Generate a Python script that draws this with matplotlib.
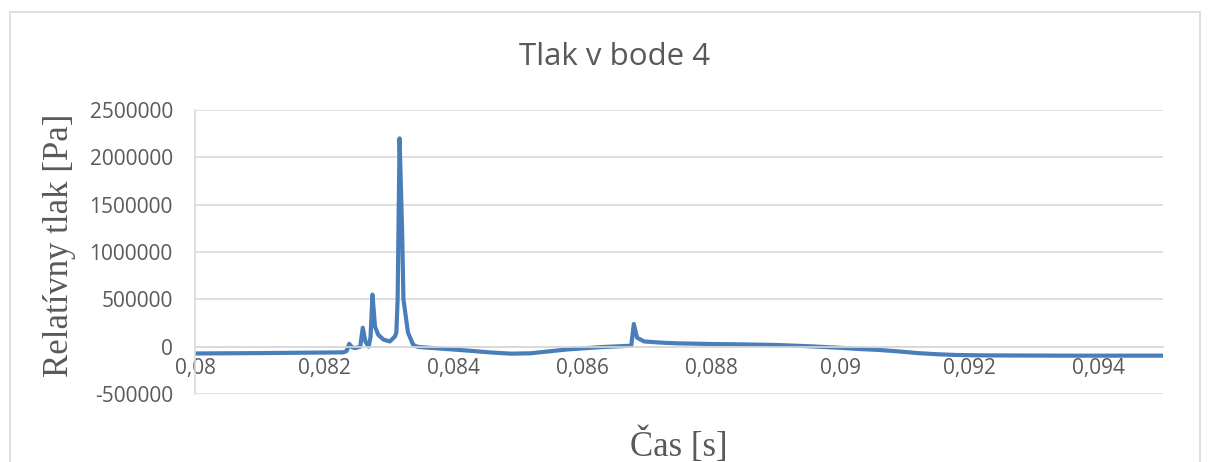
import matplotlib.pyplot as plt
from matplotlib.patches import Rectangle
from matplotlib.ticker import FuncFormatter, MultipleLocator

# cas [s] a relativny tlak [Pa] v bode 4 (odcitane z grafu)
cas = [0.0800, 0.0810, 0.0820, 0.08230, 0.08235, 0.08239, 0.08243, 0.08248,
       0.08256, 0.08260, 0.08264, 0.08269, 0.08272, 0.08275, 0.08279, 0.08284,
       0.08292, 0.08302, 0.08310, 0.08312, 0.08314, 0.08317, 0.08321, 0.08323,
       0.08330, 0.08338, 0.08344, 0.0835, 0.0842, 0.0846, 0.0849, 0.0852,
       0.08576, 0.08628, 0.0866, 0.08676, 0.08680, 0.08685, 0.08696, 0.08717,
       0.0873, 0.0875, 0.0880, 0.0885, 0.0890, 0.0895, 0.0900, 0.0903,
       0.0906, 0.0909, 0.0912, 0.0915, 0.0918, 0.0922, 0.0935, 0.0950]
tlak = [-72000, -68000, -62000, -60000, -45000, 30000, -5000, -15000,
        0, 200000, 55000, 0, 100000, 550000, 210000, 125000,
        75000, 55000, 110000, 150000, 500000, 2200000, 1200000, 500000,
        150000, 20000, 0, -5000, -40000, -62000, -74000, -70000,
        -30000, -5000, 5000, 10000, 240000, 95000, 55000, 45000,
        40000, 35000, 28000, 24000, 18000, 5000, -12000, -25000,
        -35000, -50000, -68000, -80000, -88000, -92000, -95000, -95000]

sede = '#595959'

fig = plt.figure(figsize=(12.09, 4.62), dpi=100)
fig.patches.append(Rectangle((10/1209, -0.1), 1190/1209, 1.1 - 12/462,
                             transform=fig.transFigure, fill=False,
                             edgecolor='#d9d9d9', linewidth=1.2))

ax = fig.add_axes([195/1209, 1 - 394/462, 968/1209, 284/462])
ax.plot(cas, tlak, color='#4a7ebb', linewidth=3, solid_joinstyle='round')

ax.set_xlim(0.08, 0.095)
ax.set_ylim(-500000, 2500000)
ax.xaxis.set_major_locator(MultipleLocator(0.002))
ax.yaxis.set_major_locator(MultipleLocator(500000))
ax.xaxis.set_major_formatter(FuncFormatter(lambda v, p: ('%g' % round(v, 4)).replace('.', ',')))
ax.yaxis.set_major_formatter(FuncFormatter(lambda v, p: '%d' % v))

ax.grid(axis='y', color='#d9d9d9', linewidth=1.2)
ax.set_axisbelow(True)
for s in ['top', 'right']:
    ax.spines[s].set_visible(False)
ax.spines['bottom'].set_position(('data', 0))
ax.spines['bottom'].set_color('#d9d9d9')
ax.spines['left'].set_color('#d9d9d9')
ax.spines['bottom'].set_linewidth(1.2)
ax.spines['left'].set_linewidth(1.2)
ax.tick_params(axis='both', length=0, labelsize=15, labelcolor=sede)
ax.tick_params(axis='y', pad=16)
ax.tick_params(axis='x', pad=8)
for t in ax.get_xticklabels() + ax.get_yticklabels():
    t.set_fontfamily('Open Sans')

fig.text(615/1209, 1 - 57/462, 'Tlak v bode 4', ha='center', va='center',
         fontsize=22.5, color=sede, family='Open Sans')
fig.text(60/1209, 1 - 245/462, 'Relatívny tlak [Pa]', ha='center', va='center',
         rotation=90, fontsize=25, color=sede, family='Liberation Serif')
fig.text(679/1209, 1 - 446/462, 'Čas [s]', ha='center', va='center',
         fontsize=25, color=sede, family='Liberation Serif')

fig.savefig('out.png', dpi=100)
